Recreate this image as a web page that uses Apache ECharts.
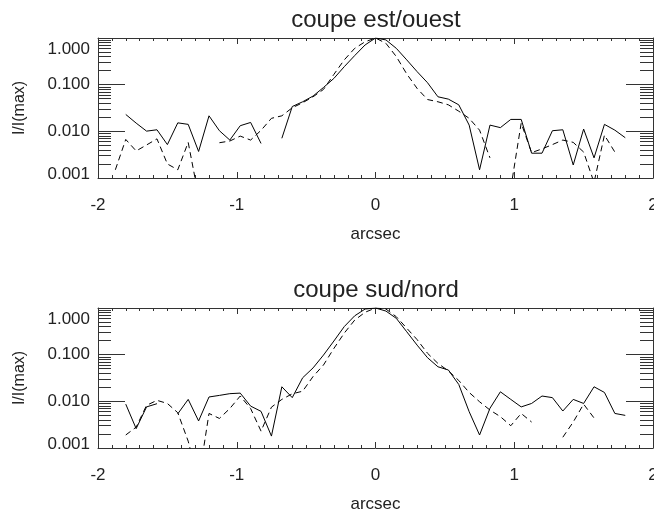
<!DOCTYPE html>
<html>
<head>
<meta charset="utf-8">
<script src="https://cdn.jsdelivr.net/npm/echarts@6.0.0/dist/echarts.min.js"></script>
<style>
  html, body { margin: 0; padding: 0; background: #fff; }
  #main { width: 654px; height: 510px; }
</style>
</head>
<body>
<div id="main"></div>
<script>
// positions (arcsec) of the profile samples
var arcsec = [-1.875,
  -1.8, -1.725, -1.65, -1.575, -1.5, -1.425, -1.35, -1.275, -1.2, -1.125,
  -1.05, -0.975, -0.9, -0.825, -0.75, -0.675, -0.6, -0.525, -0.45, -0.375,
  -0.3, -0.225, -0.15, -0.075, 0, 0.075, 0.15, 0.225, 0.3, 0.375,
  0.45, 0.525, 0.6, 0.675, 0.75, 0.825, 0.9, 0.975, 1.05, 1.125,
  1.2, 1.275, 1.35, 1.425, 1.5, 1.575, 1.65, 1.725, 1.8];

// coupe est/ouest
var eoSolid = [null,
  0.023, 0.015, 0.0101, 0.0108, 0.0052, 0.0152, 0.0141, 0.0037, 0.0215, 0.0103,
  0.0065, 0.0132, 0.0155, 0.0055, null, 0.0071, 0.034, 0.043, 0.057, 0.087,
  0.136, 0.243, 0.42, 0.71, 1.0, 0.91, 0.60, 0.34, 0.19, 0.11,
  0.055, 0.049, 0.037, 0.0136, 0.0015, 0.0136, 0.012, 0.018, 0.018, 0.0034,
  0.0034, 0.0103, 0.0108, 0.0019, 0.0112, 0.0027, 0.0141, 0.0106, 0.0073];
var eoDashed = [0.0015,
  0.0067, 0.0038, 0.0051, 0.0069, 0.0020, 0.0015, 0.0058, 0.0004, null, 0.0057,
  0.0062, 0.0079, 0.0065, 0.0105, 0.019, 0.0215, 0.032, 0.041, 0.055, 0.079,
  0.166, 0.34, 0.60, 0.83, 1.0, 0.77, 0.40, 0.17, 0.083, 0.048,
  0.043, 0.037, 0.027, 0.019, 0.0106, 0.0027, null, 0.0006, 0.0150, 0.0035,
  0.0042, 0.0052, 0.0065, 0.0058, 0.0036, 0.0008, 0.0083, 0.0036, null];

// coupe sud/nord
var snSolid = [null,
  0.0087, 0.0026, 0.0076, 0.0089, null, 0.0054, 0.011, 0.0038, 0.0124, 0.0134,
  0.0146, 0.0150, 0.0079, 0.0061, 0.0018, 0.0205, 0.012, 0.032, 0.052, 0.098,
  0.196, 0.40, 0.68, 0.95, 1.0, 0.86, 0.60, 0.31, 0.16, 0.086,
  0.055, 0.047, 0.023, 0.006, 0.0019, 0.0071, 0.016, 0.011, 0.0076, 0.0090,
  0.013, 0.012, 0.0062, 0.011, 0.009, 0.0205, 0.0155, 0.0055, 0.0050];
var snDashed = [null,
  0.0019, 0.0028, 0.0082, 0.0105, 0.009, 0.0057, 0.0014, 0.0002, 0.0055, 0.0043,
  0.0070, 0.0130, 0.0070, 0.0023, 0.0075, 0.011, 0.0145, 0.0165, 0.034, 0.060,
  0.136, 0.29, 0.55, 0.81, 1.0, 0.95, 0.65, 0.37, 0.21, 0.107,
  0.065, 0.045, 0.028, 0.0155, 0.0098, 0.0065, 0.0047, 0.0030, 0.0055, 0.0036,
  null, null, 0.0017, 0.0036, 0.0087, 0.0044, null, null, null];

var titles = ['coupe est/ouest', 'coupe sud/nord'];
var yMajor = [0.001, 0.01, 0.1, 1];
var yMinor = [0.002, 0.003, 0.004, 0.005, 0.006, 0.007, 0.008, 0.009,
  0.02, 0.03, 0.04, 0.05, 0.06, 0.07, 0.08, 0.09,
  0.2, 0.3, 0.4, 0.5, 0.6, 0.7, 0.8, 0.9];

var font = 'Liberation Sans, Arial, Helvetica, sans-serif';
var axisColor = '#333';
var gridTops = [38, 308];

function pairs(ys) {
  return arcsec.map(function (x, i) { return [x, ys[i]]; });
}

var grids = [], xAxes = [], yAxes = [], series = [], graphics = [];

gridTops.forEach(function (top, g) {
  grids.push({ left: 98, right: 1, top: top, height: 140, outerBoundsMode: 'none', containLabel: false });

  graphics.push({
    type: 'text', x: 376, y: top - 18,
    style: { text: titles[g], fontSize: 24, fontFamily: font, fill: '#222',
      align: 'center', verticalAlign: 'middle' }
  });

  var xBase = {
    type: 'value', gridIndex: g, min: -2, max: 2, interval: 1,
    axisLine: { onZero: false, lineStyle: { color: axisColor, width: 1 } },
    axisTick: { inside: true, length: 6, lineStyle: { color: axisColor } },
    minorTick: { show: true, splitNumber: 10, length: 3, lineStyle: { color: axisColor } },
    splitLine: { show: false }
  };
  xAxes.push(Object.assign({}, xBase, {
    position: 'bottom',
    name: 'arcsec', nameLocation: 'middle', nameGap: 48,
    nameTextStyle: { fontSize: 17, fontFamily: font, color: '#222' },
    axisLabel: { fontSize: 17, fontFamily: font, color: '#222', margin: 19 }
  }));
  xAxes.push(Object.assign({}, xBase, {
    position: 'top', axisLabel: { show: false }
  }));

  var yBase = {
    type: 'log', logBase: 10, gridIndex: g, min: 0.001, max: 1,
    splitLine: { show: false }
  };
  ['left', 'right'].forEach(function (pos) {
    yAxes.push(Object.assign({}, yBase, {
      position: pos,
      axisLine: { show: true, onZero: false, lineStyle: { color: axisColor, width: 1 } },
      axisTick: { inside: true, length: 27, customValues: yMajor, lineStyle: { color: axisColor } },
      axisLabel: pos === 'left' ? {
        customValues: yMajor, margin: 8, fontSize: 17, fontFamily: font, color: '#222',
        formatter: function (v) {
          var s = Number(v).toFixed(3);
          if (v > 0.5) return '{t|' + s + '}';
          if (v < 0.002) return '{b|' + s + '}';
          return '{m|' + s + '}';
        },
        rich: {
          t: { fontSize: 17, fontFamily: font, color: '#222', padding: [22, 0, 0, 0] },
          m: { fontSize: 17, fontFamily: font, color: '#222' },
          b: { fontSize: 17, fontFamily: font, color: '#222', padding: [0, 0, 8, 0] }
        }
      } : { show: false },
      name: pos === 'left' ? 'I/I(max)' : '',
      nameLocation: 'middle', nameGap: 70, nameRotate: 90,
      nameTextStyle: { fontSize: 16, fontFamily: font, color: '#222' }
    }));
    yAxes.push(Object.assign({}, yBase, {
      position: pos,
      axisLine: { show: false, onZero: false },
      axisTick: { inside: true, length: 13, customValues: yMinor, lineStyle: { color: axisColor } },
      axisLabel: { show: false }
    }));
  });

  var sets = g === 0 ? [eoSolid, eoDashed] : [snSolid, snDashed];
  sets.forEach(function (ys, k) {
    series.push({
      type: 'line', xAxisIndex: g * 2, yAxisIndex: g * 4,
      data: pairs(ys), showSymbol: false, symbol: 'none',
      connectNulls: false, animation: false, silent: true,
      lineStyle: { color: '#000', width: 1, type: k === 0 ? 'solid' : [6, 4] }
    });
  });
});

var chart = echarts.init(document.getElementById('main'));
chart.setOption({
  backgroundColor: '#fff',
  animation: false,
  grid: grids,
  xAxis: xAxes,
  yAxis: yAxes,
  series: series,
  graphic: graphics
});
</script>
</body>
</html>
